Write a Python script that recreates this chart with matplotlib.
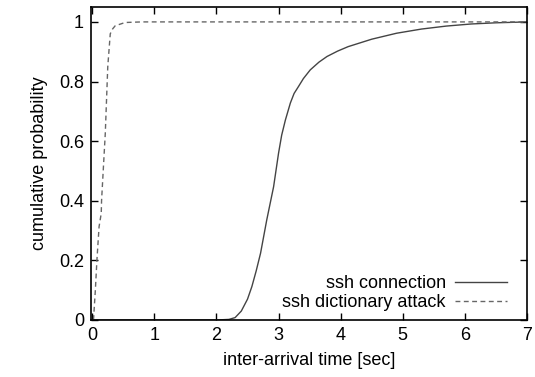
import matplotlib
matplotlib.use('Agg')
import matplotlib.pyplot as plt

plt.rcParams['font.family'] = ['Liberation Sans', 'DejaVu Sans']

# ssh connection
conn_x = [0.0, 2.0, 2.2, 2.3, 2.4, 2.5, 2.57, 2.64, 2.71, 2.81, 2.92, 3.0, 3.05, 3.11, 3.19, 3.25, 3.32, 3.4, 3.51, 3.65, 3.78, 3.95, 4.12, 4.5, 4.9, 5.3, 5.7, 6.1, 6.5, 7.0]
conn_y = [0.0, 0.0, 0.002, 0.008, 0.03, 0.07, 0.112, 0.165, 0.224, 0.336, 0.447, 0.56, 0.62, 0.671, 0.728, 0.76, 0.783, 0.81, 0.839, 0.865, 0.884, 0.902, 0.917, 0.942, 0.962, 0.976, 0.986, 0.993, 0.997, 1.0]

# ssh dictionary attack
atk_x = [0.02, 0.05, 0.075, 0.11, 0.145, 0.15, 0.21, 0.25, 0.29, 0.33, 0.37, 0.53, 0.8, 7.0]
atk_y = [0.0, 0.1, 0.2, 0.313, 0.358, 0.40, 0.626, 0.85, 0.96, 0.977, 0.987, 0.998, 1.0, 1.0]

fig = plt.figure(figsize=(5.35, 3.77), dpi=100)
ax = fig.add_axes([91/535, 1 - 320/377, (527-91)/535, (320-7)/377])

ax.plot(conn_x, conn_y, color='#444444', lw=1.0, ls='-', label='ssh connection')
ax.plot(atk_x, atk_y, color='#666666', lw=1.0, ls=(0, (3.5, 2.5)), label='ssh dictionary attack')

ax.set_xlim(-0.02, 7)
ax.set_ylim(0, 1.05)
ax.set_xticks(range(0, 8))
ax.set_yticks([0, 0.2, 0.4, 0.6, 0.8, 1])
ax.set_yticklabels(['0', '0.2', '0.4', '0.6', '0.8', '1'])
ax.tick_params(direction='in', top=True, right=True, length=5, width=1, labelsize=13, pad=5)
for s in ax.spines.values():
    s.set_linewidth(1.2)

ax.set_xlabel('inter-arrival time [sec]', fontsize=13, labelpad=6)
ax.set_ylabel('cumulative probability', fontsize=13, labelpad=8)

ax.legend(loc='lower right', frameon=False, markerfirst=False, fontsize=13,
          handlelength=2.9, borderaxespad=0.2, labelspacing=0.1, handletextpad=0.5,
          borderpad=0.3, bbox_to_anchor=(0.975, 0.0))

fig.savefig('out.png', dpi=100)
